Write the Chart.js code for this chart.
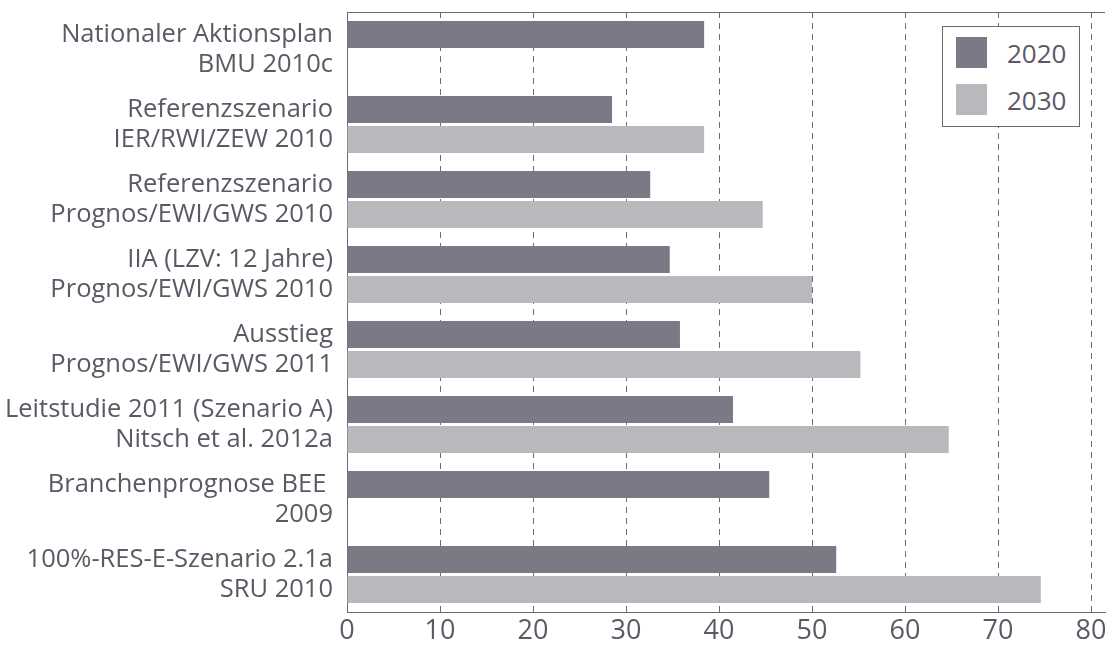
<!DOCTYPE html>
<html>
<head>
<meta charset="utf-8">
<script src="https://cdn.jsdelivr.net/npm/chart.js@4/dist/chart.umd.min.js"></script>
<style>
  html, body { margin: 0; padding: 0; background: #fff; }
  #wrap { position: relative; width: 1110px; height: 648px; }
  #legend {
    position: absolute; left: 942px; top: 26px; width: 136px; height: 99px;
    border: 1px solid #6b6b75; background: #fff;
    font-family: 'Open Sans', sans-serif; font-size: 26px; color: #5a5a66;
  }
  #legend .item { position: absolute; left: 13px; height: 31px; display: flex; align-items: center; }
  #legend .box { width: 31px; height: 31px; margin-right: 20px; }
</style>
</head>
<body>
<div id="wrap">
  <canvas id="chart" width="1110" height="648"></canvas>
  <div id="legend"></div>
</div>
<script>
const categories = [
  ['Nationaler Aktionsplan', 'BMU 2010c'],
  ['Referenzszenario', 'IER/RWI/ZEW 2010'],
  ['Referenzszenario', 'Prognos/EWI/GWS 2010'],
  ['IIA (LZV: 12 Jahre)', 'Prognos/EWI/GWS 2010'],
  ['Ausstieg', 'Prognos/EWI/GWS 2011'],
  ['Leitstudie 2011 (Szenario A)', 'Nitsch et al. 2012a'],
  ['Branchenprognose BEE ', '2009'],
  ['100%-RES-E-Szenario 2.1a', 'SRU 2010'],
];
const values2020 = [38.4, 28.5, 32.6, 34.7, 35.8, 41.5, 45.4, 52.6];
const values2030 = [null, 38.4, 44.7, 50.0, 55.2, 64.7, null, 74.6];
const xTicks = [0, 10, 20, 30, 40, 50, 60, 70, 80];

const TEXT = '#5a5a66';
const AXIS = '#6b6b75';
const COLORS = { y2020: '#7b7985', y2030: '#b9b8bd' };

const topLine = {
  id: 'topLine',
  afterDraw(chart) {
    const { ctx, chartArea } = chart;
    ctx.save();
    ctx.strokeStyle = AXIS;
    ctx.lineWidth = 1;
    ctx.beginPath();
    ctx.moveTo(chartArea.left, chartArea.top + 0.5);
    ctx.lineTo(chartArea.right, chartArea.top + 0.5);
    ctx.stroke();
    ctx.restore();
  },
};

const chart = new Chart(document.getElementById('chart'), {
  type: 'bar',
  data: {
    labels: categories,
    datasets: [
      { label: '2020', data: values2020, backgroundColor: COLORS.y2020 },
      { label: '2030', data: values2030, backgroundColor: COLORS.y2030 },
    ],
  },
  options: {
    indexAxis: 'y',
    responsive: false,
    animation: false,
    layout: { padding: { top: 12, right: 5, left: 0, bottom: 0 } },
    datasets: { bar: { categoryPercentage: 0.8, barPercentage: 0.9 } },
    plugins: { legend: { display: false }, tooltip: { enabled: false } },
    scales: {
      x: {
        min: 0,
        max: 81.5,
        afterBuildTicks: scale => { scale.ticks = xTicks.map(value => ({ value })); },
        afterFit: scale => {
          scale.height = 36;
          scale.paddingLeft = 0;
          scale.paddingRight = 0;
        },
        ticks: { color: TEXT, padding: 3, font: { family: 'Open Sans', size: 27 } },
        grid: { color: AXIS, lineWidth: 1, drawTicks: false },
        border: { display: true, color: AXIS, width: 1, dash: [6, 5] },
      },
      y: {
        afterFit: scale => {
          scale.width = 347;
          scale.paddingTop = 0;
          scale.paddingBottom = 0;
        },
        ticks: { color: TEXT, padding: 14, font: { family: 'Open Sans', size: 25.5, lineHeight: 1.18 } },
        grid: { display: false, drawTicks: false },
        border: { display: true, color: AXIS, width: 1 },
      },
    },
  },
  plugins: [topLine],
});

const legend = document.getElementById('legend');
chart.data.datasets.forEach((ds, i) => {
  const item = document.createElement('div');
  item.className = 'item';
  item.style.top = (10 + i * 47) + 'px';
  item.innerHTML = `<span class="box" style="background:${ds.backgroundColor}"></span><span>${ds.label}</span>`;
  legend.appendChild(item);
});
</script>
</body>
</html>
